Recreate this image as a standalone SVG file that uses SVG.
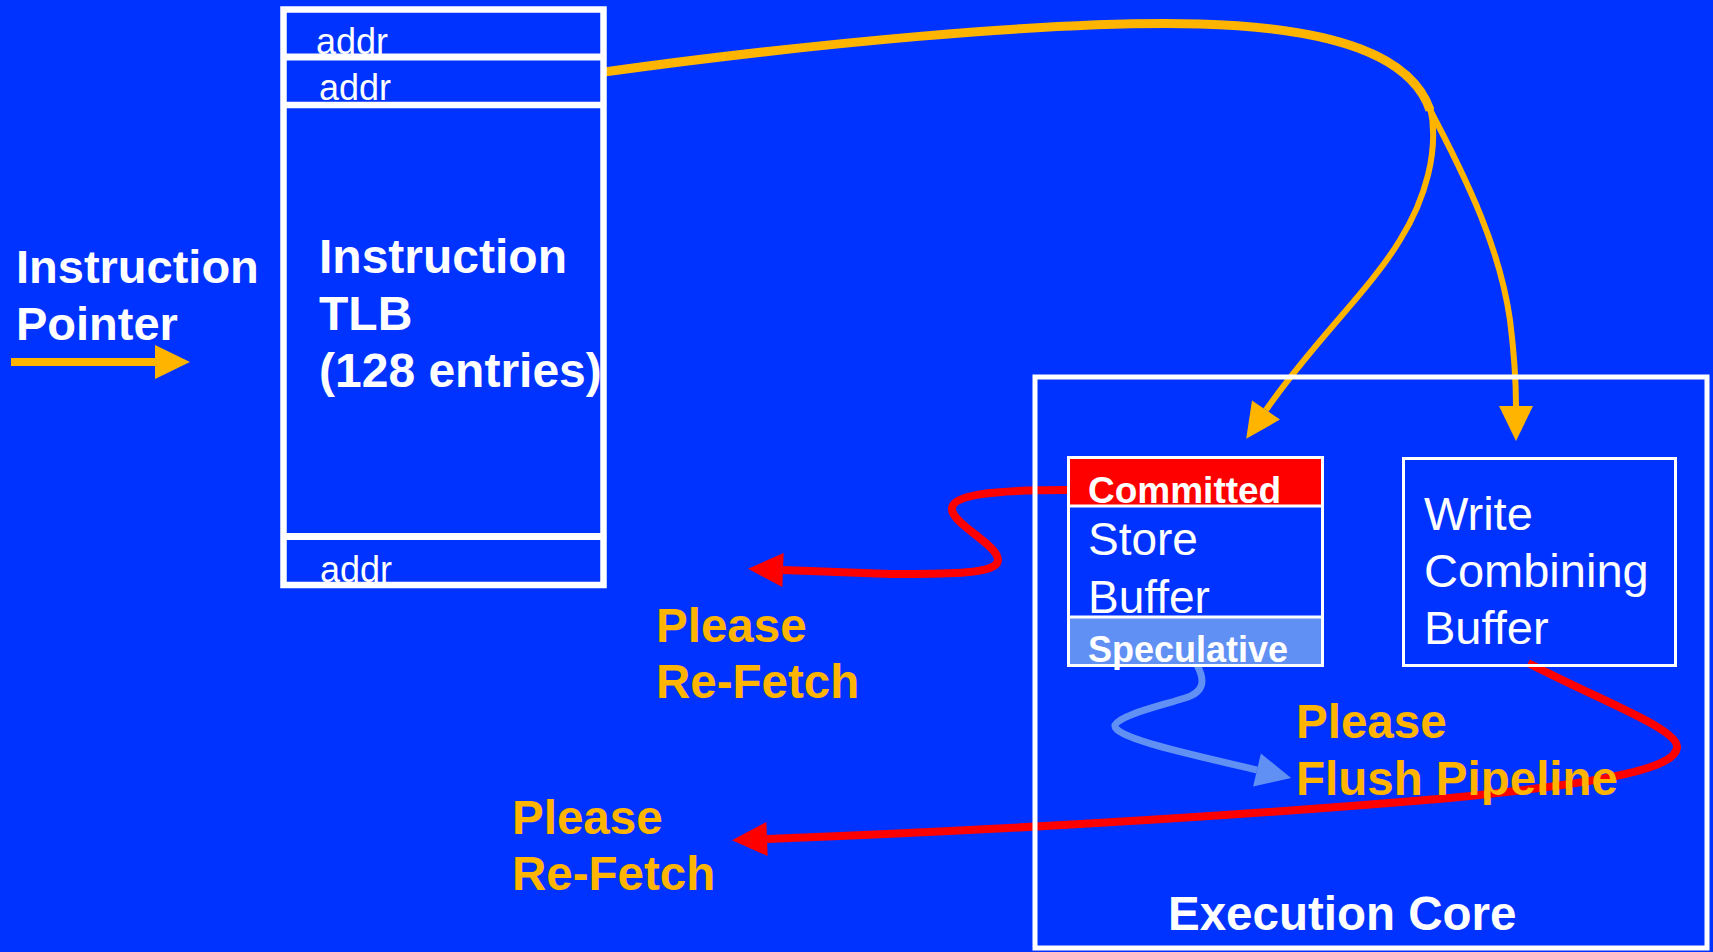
<svg xmlns="http://www.w3.org/2000/svg" width="1713" height="952" viewBox="0 0 1713 952">
  <style>
    .box { fill: none; stroke: #ffffff; }
    .lbl { font-family: "Liberation Sans", Arial, sans-serif; fill: #ffffff; }
    .b { font-weight: bold; }
    .or { fill: #ffb400; }
    .conn { fill: none; stroke-linecap: butt; }
  </style>
  <defs>
    <marker id="ah-orange" markerUnits="userSpaceOnUse" markerWidth="36" markerHeight="36" refX="0" refY="17" orient="auto" overflow="visible">
      <path d="M0,0 L35,17 L0,34 z" fill="#ffb400"/>
    </marker>
    <marker id="ah-red" markerUnits="userSpaceOnUse" markerWidth="36" markerHeight="36" refX="0" refY="17" orient="auto" overflow="visible">
      <path d="M0,0 L35,17 L0,34 z" fill="#ff0000"/>
    </marker>
    <marker id="ah-lblue" markerUnits="userSpaceOnUse" markerWidth="36" markerHeight="36" refX="0" refY="17" orient="auto" overflow="visible">
      <path d="M0,0 L35,17 L0,34 z" fill="#6190f5"/>
    </marker>
  </defs>

  <rect x="0" y="0" width="1713" height="952" fill="#0033ff"/>

  <g id="connectors">
    <!-- Instruction pointer arrow -->
    <path class="conn" d="M11,362 L155,362" stroke="#ffb400" stroke-width="8" marker-end="url(#ah-orange)"/>
    <!-- TLB to execution core -->
    <path class="conn" d="M604,72 C800,45 1050,20 1200,24 C1340,28 1412,58 1430,110" stroke="#ffb400" stroke-width="9"/>
    <path class="conn" d="M1430,106 C1440,150 1425,200 1400,240 C1370,290 1312,343 1266,410" stroke="#ffb400" stroke-width="6" marker-end="url(#ah-orange)"/>
    <path class="conn" d="M1428,106 C1470,185 1500,250 1510,320 C1515,360 1516,385 1516,406" stroke="#ffb400" stroke-width="6" marker-end="url(#ah-orange)"/>
    <!-- Committed to re-fetch -->
    <path class="conn" d="M1067,490 C990,490 950,495 952,510 C954,525 998,545 998,560 C998,575 940,574 890,574 L783,570" stroke="#ff0000" stroke-width="8" marker-end="url(#ah-red)"/>
    <!-- Speculative to flush pipeline -->
    <path class="conn" d="M1197,665 C1205,680 1205,692 1185,698 C1160,706 1120,715 1115,725 C1112,737 1180,752 1257,770" stroke="#6190f5" stroke-width="7" marker-end="url(#ah-lblue)"/>
    <!-- Write combining buffer to re-fetch -->
    <path class="conn" d="M1528,663 C1610,705 1680,730 1677,748 C1673,772 1580,785 1450,798 C1250,815 1000,830 767,839" stroke="#ff0000" stroke-width="8" marker-end="url(#ah-red)"/>
  </g>

  <g id="instruction-tlb">
    <text class="lbl" x="316" y="54" font-size="36">addr</text>
    <text class="lbl" x="319" y="100" font-size="36">addr</text>
    <text class="lbl" x="320" y="582" font-size="36">addr</text>
    <rect class="box" x="283.5" y="9.5" width="320" height="575.5" stroke-width="6.5"/>
    <line x1="283" y1="57" x2="604" y2="57" stroke="#ffffff" stroke-width="7"/>
    <line x1="283" y1="105" x2="604" y2="105" stroke="#ffffff" stroke-width="6.5"/>
    <line x1="283" y1="536.5" x2="604" y2="536.5" stroke="#ffffff" stroke-width="7"/>
    <text class="lbl b" x="319" font-size="48"><tspan x="319" y="273">Instruction</tspan><tspan x="319" y="330">TLB</tspan><tspan x="319" y="387">(128 entries)</tspan></text>
  </g>

  <g id="instruction-pointer">
    <text class="lbl b" font-size="47"><tspan x="16" y="283">Instruction</tspan><tspan x="16" y="340">Pointer</tspan></text>
  </g>

  <g id="execution-core">
    <rect class="box" x="1035" y="377" width="672" height="571" stroke-width="5"/>
    <text class="lbl b" x="1168" y="930" font-size="47.5">Execution Core</text>
  </g>

  <g id="store-buffer">
    <rect x="1068.5" y="458" width="254" height="47" fill="#ff0000"/>
    <rect x="1068.5" y="617" width="254" height="48" fill="#6190f5"/>
    <rect class="box" x="1068.5" y="457.5" width="254" height="208" stroke-width="3"/>
    <line x1="1068" y1="506" x2="1323" y2="506" stroke="#ffffff" stroke-width="3"/>
    <line x1="1068" y1="617" x2="1323" y2="617" stroke="#ffffff" stroke-width="3"/>
    <text class="lbl b" x="1088" y="503" font-size="37">Committed</text>
    <text class="lbl" font-size="46"><tspan x="1088" y="555">Store</tspan><tspan x="1088" y="613">Buffer</tspan></text>
    <text class="lbl b" x="1088" y="662" font-size="36">Speculative</text>
  </g>

  <g id="write-combining-buffer">
    <rect class="box" x="1403.5" y="458.5" width="272" height="207" stroke-width="3"/>
    <text class="lbl" font-size="47"><tspan x="1424" y="530">Write</tspan><tspan x="1424" y="587">Combining</tspan><tspan x="1424" y="644">Buffer</tspan></text>
  </g>

  <g id="labels">
    <text class="lbl b or" font-size="47.5"><tspan x="656" y="642">Please</tspan><tspan x="656" y="698">Re-Fetch</tspan></text>
    <text class="lbl b or" font-size="47.5"><tspan x="512" y="834">Please</tspan><tspan x="512" y="890">Re-Fetch</tspan></text>
    <text class="lbl b or" font-size="47.5"><tspan x="1296" y="738">Please</tspan><tspan x="1296" y="795">Flush Pipeline</tspan></text>
  </g>
</svg>
